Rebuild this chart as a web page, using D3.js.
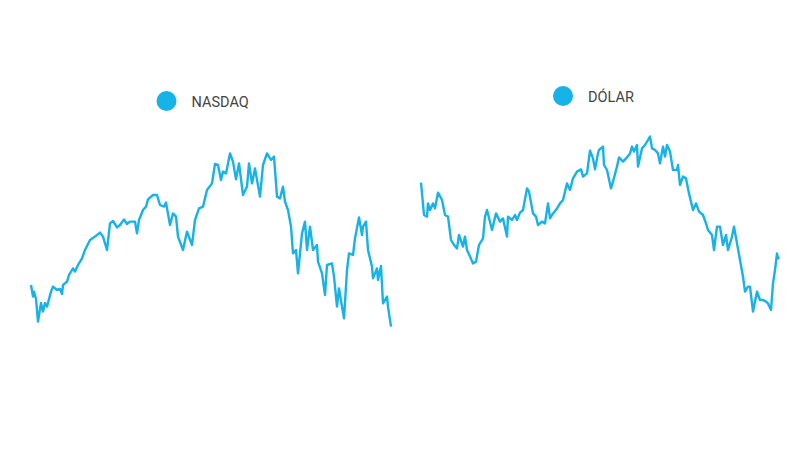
<!DOCTYPE html>
<html><head><meta charset="utf-8">
<script src="https://cdn.jsdelivr.net/npm/d3@7"></script>
<style>html,body{margin:0;padding:0;background:#fff;}svg{display:block;}</style>
</head><body>
<svg id="chart" width="800" height="450"></svg>
<script>
const seriesNames = ["NASDAQ", "DÓLAR"];
const nasdaqDays = [0,2,3,5,7,10,12,14,16,20,22,26,29,31,32,36,38,42,44,47,51,54,59,64,69,72,76,79,82,86,89,93,96,99,104,106,108,112,115,117,122,126,129,133,135,139,142,145,147,152,156,161,164,168,172,176,181,184,187,190,192,195,199,202,205,208,212,216,218,221,224,229,232,236,240,243,246,249,252,254,257,260,262,265,267,271,274,276,279,282,286,287,291,294,296,301,303,306,308,311,313,316,318,322,324,328,331,332,335,337,341,342,346,347,350,352,356,357,360];
const nasdaqValues = [27.5,21.7,24.2,20.5,9.2,18.5,14.2,18.5,16.7,24.2,26.7,25,25.5,23,27.5,29.2,32.5,35.8,34.2,37.5,40.8,45,50,51.7,53.7,51.7,45,58.3,59.5,56.3,57.5,60.3,58,59.2,59.2,53.3,60,65,66.7,70.3,72.5,72.5,67.5,66.7,68.7,57.5,63.3,61.7,51.7,45,54.2,47.5,60,65.8,66.7,75,78.3,88,87.5,80,84.2,83.3,93.3,89.2,80.3,88.3,72.5,76.7,88.3,78.3,85.8,71.7,87.5,93.3,90,91.7,71.7,70.8,76.7,69.2,65,56.7,43.3,45,33.3,53.3,59.2,45,56.7,45,47.5,39.2,33.3,22.5,37.5,38.3,31.7,16.7,25.8,16.7,10.8,35,43.3,42.5,50.8,61.3,52.5,56.7,59.2,45,36.7,30.8,35.8,30,37,18.3,21.7,16.7,6.7];
const dolarDays = [0,3,6,7,9,12,14,17,21,24,27,30,33,36,38,42,44,46,49,52,55,58,62,64,66,71,75,79,82,86,87,91,94,96,99,102,106,108,112,115,117,121,124,127,129,132,136,139,142,146,149,152,156,160,162,166,169,172,174,177,178,182,183,186,190,192,196,198,202,205,209,211,213,216,217,221,224,229,231,234,237,239,242,244,246,249,252,256,257,259,262,265,268,272,275,278,282,285,287,291,293,296,299,302,305,307,311,313,316,319,322,324,327,329,332,336,339,342,345,347,350,352,354,356,357,358];
const dolarValues = [78.7,62.5,61.7,68.3,65,68.3,65.8,73.7,70,62.5,61.7,50,47.5,45.8,52.5,46.7,51.7,45,41.7,38.3,39.2,47.5,50.8,61.7,65,55,63.3,59.2,60.8,51.7,61.7,60,62.5,60,63.7,65,75.8,74.2,63.3,61.7,57.5,59.2,58.3,68.3,60.8,63.3,65.8,68.3,70,78.3,75,80.8,84.2,85.3,81.7,83.3,94.7,90.8,85.3,93.3,95,96.7,87.5,85,75.8,79.2,86.7,91.3,89.2,90.8,93.3,96.7,94.2,97.5,86.7,95.8,97.5,101.7,95.8,95,93.3,88.3,96.7,91.7,97.5,94.2,85,85,87.5,77.5,81.7,80.8,73.3,65,68.3,64.2,62.5,58.3,55,52.5,45,56.7,56.7,47.5,52.5,45,51.7,56.7,48.3,40,31.7,24.2,26.7,26.7,14.2,24.2,20,20,19.2,18.3,15,28.3,35,43.3,40.8,41.7];

const color = "#17b2e8";
const svg = d3.select("#chart");
const y = d3.scaleLinear().domain([0, 105]).range([340, 130]);
const panels = [
  {name: seriesNames[0], days: nasdaqDays, values: nasdaqValues, x: d3.scaleLinear().domain([0,360]).range([31,391]), lx: 166.5, ly: 101},
  {name: seriesNames[1], days: dolarDays, values: dolarValues, x: d3.scaleLinear().domain([0,360]).range([421,781]), lx: 563, ly: 96}
];
panels.forEach(p => {
  const data = p.days.map((d,i) => ({d, v: p.values[i]}));
  const line = d3.line().x(d => p.x(d.d)).y(d => y(d.v));
  svg.append("path").datum(data).attr("d", line)
    .attr("fill","none").attr("stroke",color).attr("stroke-width",2.4).attr("stroke-linejoin","round");
  svg.append("circle").attr("cx",p.lx).attr("cy",p.ly).attr("r",10).attr("fill",color);
  svg.append("text").attr("x",p.lx+25).attr("y",p.ly+6).text(p.name)
    .attr("font-family","Roboto, sans-serif").attr("font-size",14.5).attr("fill","#444");
});
</script>
</body></html>
